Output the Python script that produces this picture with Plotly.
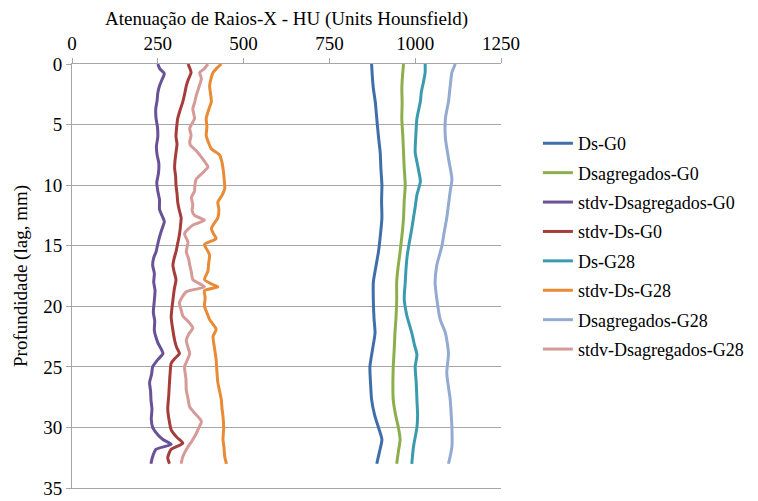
import plotly.graph_objects as go

# ---- data (depth in mm, attenuation in HU) ----
ds_g0_depth = [0, 1, 2, 3.2, 4.5, 6, 7.3, 8.6, 10, 11.3, 12.7, 14, 15.5, 16.8, 18, 19.5, 21, 22.2, 23.5, 25, 26.4, 27.7, 29, 30, 31, 32, 33]
ds_g0_vals = [873, 875, 878, 884, 888, 893, 898, 900, 903, 902, 903, 899, 893, 885, 878, 878, 880, 883, 876, 868, 870, 873, 882, 893, 903, 896, 888]

dsag_g0_depth = [0, 1, 2, 3.2, 4.5, 6, 7.3, 8.6, 10, 11.3, 12.7, 14, 15.5, 16.8, 18, 19.5, 21, 22.2, 23.5, 25, 26.4, 27.7, 29, 30, 31, 32, 33]
dsag_g0_vals = [966, 963, 961, 962, 961, 964, 966, 968, 971, 968, 966, 962, 956, 950, 946, 946, 944, 941, 939, 936, 935, 936, 943, 951, 956, 951, 946]

std_dsag_g0_depth = [0, 0.4, 0.8, 1.3, 1.8, 2.4, 3, 3.7, 4.5, 5.2, 6, 6.8, 7.5, 8.2, 9, 9.8, 10.5, 11.2, 12, 12.5, 13, 13.4, 13.8, 14.6, 15.5, 16, 16.6, 17.3, 18, 18.7, 19.5, 20.5, 21.2, 22, 23, 23.9, 24.4, 25, 25.6, 26.3, 27, 27.7, 28.5, 29.3, 30, 30.6, 31, 31.4, 31.8, 32.4, 33]
std_dsag_g0_vals = [250, 256, 269, 262, 255, 250, 248, 244, 245, 249, 250, 246, 248, 253, 252, 247, 250, 255, 255, 262, 269, 265, 260, 252, 245, 238, 235, 240, 238, 242, 240, 237, 241, 240, 250, 265, 250, 235, 232, 226, 229, 230, 233, 231, 235, 250, 265, 289, 245, 235, 230]

std_ds_g0_depth = [0, 0.7, 1.2, 1.8, 2.5, 3.1, 3.8, 4.5, 5.2, 6, 6.6, 7.3, 8, 8.6, 9.3, 10, 10.7, 11.4, 12, 12.7, 13.4, 14.1, 14.8, 15.5, 16, 16.6, 17.2, 17.8, 18.6, 19.5, 20.2, 20.9, 21.8, 22.8, 23.4, 23.9, 24.3, 24.7, 25.5, 26.3, 27.3, 28.5, 29.4, 30.2, 30.8, 31.3, 31.8, 32.5, 33]
std_ds_g0_vals = [338, 347, 340, 333, 328, 323, 315, 308, 305, 303, 306, 303, 300, 299, 302, 303, 306, 308, 312, 318, 316, 313, 308, 303, 298, 294, 298, 303, 298, 294, 291, 289, 293, 299, 305, 313, 300, 289, 286, 284, 282, 279, 283, 289, 305, 323, 289, 279, 284]

ds_g28_depth = [0, 0.7, 1.5, 2.3, 3.1, 4.5, 5.8, 7.3, 8.5, 9.7, 10.8, 11.8, 12.7, 13.6, 14.4, 15.2, 16, 17, 18, 19.4, 20.8, 22.2, 23.2, 24, 25, 26.3, 27.7, 29, 30, 31.6, 33]
ds_g28_vals = [1029, 1029, 1024, 1018, 1015, 1005, 1002, 1000, 1008, 1015, 1005, 1000, 995, 990, 985, 980, 976, 973, 971, 968, 976, 990, 998, 1005, 1000, 1003, 1005, 1007, 1005, 995, 990]

std_ds_g28_depth = [0, 0.4, 0.7, 1.2, 1.8, 2.5, 3.1, 3.8, 4.5, 5.2, 5.9, 6.5, 7, 7.5, 8, 8.6, 9.4, 10.3, 10.9, 11.4, 12, 12.7, 13.2, 13.6, 14, 14.4, 14.9, 15.4, 15.8, 16.5, 17.1, 17.8, 18.2, 18.4, 18.7, 19.3, 20, 20.6, 21.1, 21.9, 22.5, 23.4, 24.4, 25.3, 26.3, 27, 27.7, 28.4, 29.1, 30, 31, 31.7, 32.4, 33]
std_ds_g28_vals = [435, 420, 411, 405, 401, 404, 406, 398, 391, 393, 391, 398, 406, 430, 436, 440, 443, 445, 436, 425, 428, 425, 413, 406, 412, 420, 386, 395, 401, 398, 396, 386, 410, 425, 386, 388, 386, 394, 401, 420, 411, 415, 420, 422, 425, 430, 435, 437, 440, 442, 440, 443, 445, 450]

dsag_g28_depth = [0, 0.7, 1.8, 3.1, 4.5, 6.1, 7.8, 9.5, 10.5, 11.6, 12.7, 13.8, 15, 16.6, 18, 19.4, 21.1, 22.2, 23.9, 25.5, 27.7, 29, 30, 31.6, 33]
dsag_g28_vals = [1117, 1107, 1102, 1097, 1088, 1088, 1097, 1107, 1102, 1097, 1092, 1085, 1078, 1063, 1058, 1063, 1073, 1088, 1097, 1092, 1102, 1105, 1107, 1107, 1097]

std_dsag_g28_depth = [0, 0.4, 0.7, 1.2, 1.9, 2.6, 3.2, 3.7, 4.5, 5.3, 5.9, 6.4, 6.7, 7.1, 7.5, 8, 8.5, 9, 9.5, 10, 10.5, 11, 11.6, 12.1, 12.5, 12.9, 13.3, 14, 14.7, 15.5, 16.1, 16.6, 17.2, 17.8, 18.4, 18.8, 19.7, 20.3, 20.8, 21.3, 21.8, 22.3, 22.8, 23.4, 23.9, 24.5, 25, 26, 26.9, 27.6, 28.3, 28.9, 29.5, 30, 30.5, 31.1, 31.6, 32.4, 33]
std_dsag_g28_vals = [396, 385, 372, 377, 370, 362, 357, 352, 357, 343, 347, 343, 345, 360, 372, 385, 396, 380, 362, 358, 357, 348, 352, 350, 357, 386, 352, 328, 338, 333, 340, 343, 348, 352, 386, 333, 313, 318, 323, 340, 352, 340, 333, 338, 343, 335, 328, 332, 333, 338, 343, 360, 377, 370, 362, 350, 338, 323, 318]

series = [
    ("Ds-G0", ds_g0_depth, ds_g0_vals, "#3F6FAA"),
    ("Dsagregados-G0", dsag_g0_depth, dsag_g0_vals, "#8CAF4C"),
    ("stdv-Dsagregados-G0", std_dsag_g0_depth, std_dsag_g0_vals, "#6A5297"),
    ("stdv-Ds-G0", std_ds_g0_depth, std_ds_g0_vals, "#A53D3A"),
    ("Ds-G28", ds_g28_depth, ds_g28_vals, "#3A9BAE"),
    ("stdv-Ds-G28", std_ds_g28_depth, std_ds_g28_vals, "#E98A35"),
    ("Dsagregados-G28", dsag_g28_depth, dsag_g28_vals, "#93AAD3"),
    ("stdv-Dsagregados-G28", std_dsag_g28_depth, std_dsag_g28_vals, "#D69A99"),
]

FONT = "Liberation Serif"
FS = 19

fig = go.Figure()
for name, d, v, c in series:
    fig.add_trace(go.Scatter(
        x=v, y=d, mode="lines", name=name, legendgroup=name,
        line=dict(color=c, width=3, shape="spline", smoothing=0.6),
    ))

fig.update_layout(
    width=750, height=493,
    margin=dict(l=64, r=257, t=56, b=13, autoexpand=False),
    paper_bgcolor="white", plot_bgcolor="white",
    font=dict(family=FONT, size=FS, color="#000000"),
    showlegend=True,
    legend=dict(
        x=1.086, xanchor="left", y=0.856, yanchor="top",
        font=dict(family=FONT, size=18, color="#000000"),
        tracegroupgap=3, bgcolor="rgba(0,0,0,0)",
    ),
    xaxis=dict(
        side="top", range=[0, 1250], tickvals=[0, 250, 500, 750, 1000, 1250],
        showgrid=False, zeroline=False, showline=True, mirror=True,
        linecolor="#A6A6A6", linewidth=1,
        ticks="outside", ticklen=5, tickcolor="#A6A6A6", automargin=False,
        ticklabeloverflow="allow",
        title=dict(text="Atenuação de Raios-X - HU (Units Hounsfield)", standoff=2,
                   font=dict(family=FONT, size=FS)),
        tickfont=dict(family=FONT, size=FS),
    ),
    yaxis=dict(
        range=[35, 0], tickvals=[0, 5, 10, 15, 20, 25, 30, 35],
        showgrid=True, gridcolor="#A6A6A6", gridwidth=1, zeroline=False,
        showline=True, linecolor="#A6A6A6", linewidth=1,
        ticks="outside", ticklen=5, tickcolor="#A6A6A6", automargin=False,
        ticklabeloverflow="allow",
        title=dict(text="Profundidade (lag, mm)", standoff=10,
                   font=dict(family=FONT, size=FS)),
        tickfont=dict(family=FONT, size=FS),
    ),
)

fig.write_html("out.html")
